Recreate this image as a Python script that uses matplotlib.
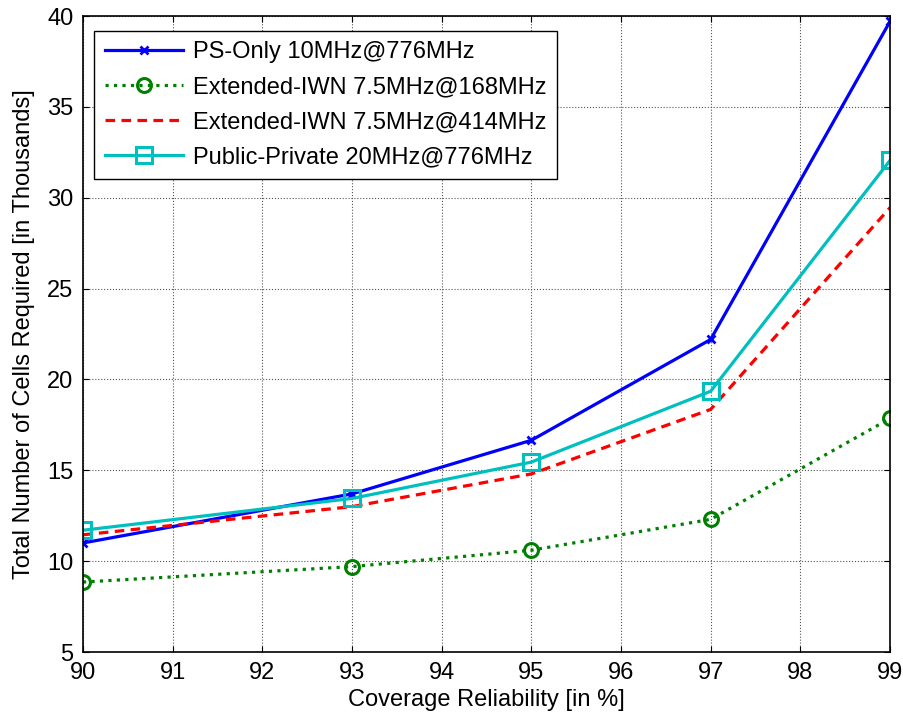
import numpy as np
import matplotlib
matplotlib.use("Agg")
import matplotlib.pyplot as plt

plt.rcParams['font.family'] = ['Liberation Sans', 'DejaVu Sans']

# データ (千セル単位)
reliability = [90, 93, 95, 97, 99]
ps_only = [11.0, 13.7, 16.65, 22.2, 39.7]
iwn_168 = [8.85, 9.7, 10.6, 12.3, 17.85]
iwn_414 = [11.45, 13.0, 14.8, 18.35, 29.45]
public_private = [11.7, 13.45, 15.45, 19.35, 32.05]

labels = ['PS-Only 10MHz@776MHz',
          'Extended-IWN 7.5MHz@168MHz',
          'Extended-IWN 7.5MHz@414MHz',
          'Public-Private 20MHz@776MHz']

fs = 17

fig = plt.figure(figsize=(9.04, 7.21), dpi=100)
ax = fig.add_axes([0.0918, 0.0957, 0.8927, 0.8821])

lw = 2.3
ax.plot(reliability, ps_only, '-x', color=(0, 0, 1), lw=lw, ms=6, mew=2, label=labels[0])
ax.plot(reliability, iwn_168, ':o', color=(0, 0.5, 0), lw=lw, ms=10, mew=2.2,
        mfc='none', label=labels[1])
ax.plot(reliability, iwn_414, '--', color=(1, 0, 0), lw=lw, dashes=(3, 2), label=labels[2])
ax.plot(reliability, public_private, '-s', color=(0, 0.75, 0.75), lw=lw, ms=11, mew=2.2,
        mfc='none', label=labels[3])

ax.set_xlim(90, 99)
ax.set_ylim(5, 40)
ax.set_xticks(range(90, 100))
ax.set_yticks(range(5, 41, 5))
ax.grid(True, linestyle=':', color='#555555', linewidth=0.8)
ax.tick_params(direction='in', top=True, right=True, labelsize=fs, length=4)
ax.tick_params(axis='x', pad=7)
ax.tick_params(axis='y', pad=7)
for s in ax.spines.values():
    s.set_linewidth(1.2)

ax.set_xlabel('Coverage Reliability [in %]', fontsize=fs, labelpad=4)
ax.set_ylabel('Total Number of Cells Required [in Thousands]', fontsize=fs, labelpad=9)

leg = ax.legend(loc='upper left', fontsize=fs, fancybox=False, framealpha=1,
                edgecolor='black', handlelength=3.3, handletextpad=0.45,
                borderpad=0.45, labelspacing=0.55, borderaxespad=0,
                bbox_to_anchor=(0.0136, 0.977))
leg.get_frame().set_linewidth(1.0)

fig.savefig('out.png', dpi=100)
